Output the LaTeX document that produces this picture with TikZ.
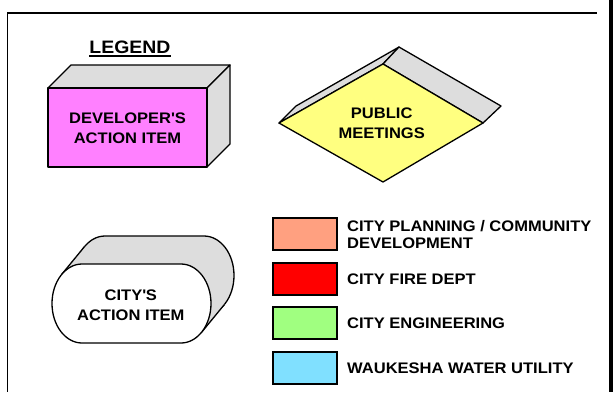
\documentclass[tikz,border=0pt]{standalone}
\usepackage{fontspec}
\setmainfont{Liberation Sans}[FakeStretch=1.08]
\definecolor{pinkface}{HTML}{FF80FF}
\definecolor{yellowface}{HTML}{FFFF80}
\definecolor{sideface}{HTML}{DDDDDD}
\definecolor{salmon}{HTML}{FFA080}
\definecolor{firered}{HTML}{FF0000}
\definecolor{enggreen}{HTML}{A0FF80}
\definecolor{waterblue}{HTML}{80E0FF}
\tikzset{
  shapeline/.style={draw=black, line width=1.3pt, line join=round},
  side/.style={shapeline, fill=sideface},
  swatch/.style={draw=black, line width=1.4pt},
  lbl/.style={font=\bfseries\fontsize{15.3}{20}\selectfont, align=center, inner sep=0pt},
  keylbl/.style={font=\bfseries\fontsize{15.3}{17}\selectfont, align=left, anchor=west, inner sep=0pt},
}
\begin{document}
\begin{tikzpicture}[x=1pt,y=-1pt]
\useasboundingbox (0,0) rectangle (614,392);
% frame
\draw[line width=2pt] (7,13) -- (597,13);
\draw[line width=1.5pt] (7.5,12) -- (7.5,392);
\draw[line width=4pt] (611.3,0) -- (611.3,392);
% legend title
\node[font=\bfseries\fontsize{18}{20}\selectfont, anchor=base, inner sep=0pt] (leg) at (130,53) {LEGEND};
\draw[line width=1.8pt] ([yshift=-3.2pt]leg.base west) -- ([yshift=-3.2pt]leg.base east);
% developer box
\filldraw[side] (48,88) -- (71,65) -- (230,65) -- (207,88) -- cycle;
\filldraw[side] (207,88) -- (230,65) -- (230,144) -- (207,167) -- cycle;
\filldraw[shapeline, fill=pinkface] (48,88) rectangle (207,167);
\node[lbl] (dev) at (127.5,128) {DEVELOPER\textquotesingle S\\ACTION ITEM};
% public meetings diamond
\filldraw[side] (279,123) -- (296,106) -- (399,47) -- (383,64) -- cycle;
\filldraw[side] (383,64) -- (399,47) -- (501,106) -- (483,123) -- cycle;
\filldraw[shapeline, fill=yellowface] (279,123) -- (383,64) -- (483,123) -- (383,182) -- cycle;
\node[lbl] (pub) at (381.7,123) {PUBLIC\\MEETINGS};
% city's action item cylinder
\begin{scope}[shift={(23,-28)}]
\filldraw[side] (82,264) -- (181,264) arc[start angle=-90,end angle=90,x radius=30,y radius=39.5]
  -- (82,343) arc[start angle=90,end angle=270,x radius=30,y radius=39.5] -- cycle;
\end{scope}
\fill[sideface] (61.6,274.5) -- (84.6,246.5) -- (224.4,304.5) -- (201.4,332.5) -- cycle;
\draw[shapeline] (61.6,274.5) -- (84.6,246.5);
\draw[shapeline] (201.4,332.5) -- (224.4,304.5);
\filldraw[shapeline, fill=white] (82,264) -- (181,264) arc[start angle=-90,end angle=90,x radius=30,y radius=39.5]
  -- (82,343) arc[start angle=90,end angle=270,x radius=30,y radius=39.5] -- cycle;
\node[lbl] (city) at (130.8,305) {CITY\textquotesingle S\\ACTION ITEM};
% key swatches
\filldraw[swatch, fill=salmon] (273,218) rectangle (337,250);
\filldraw[swatch, fill=firered] (273,263) rectangle (337,295);
\filldraw[swatch, fill=enggreen] (273,307) rectangle (337,339);
\filldraw[swatch, fill=waterblue] (273,352) rectangle (337,384);
\node[keylbl] (k1) at (347,234.5) {CITY PLANNING / COMMUNITY\\DEVELOPMENT};
\node[keylbl] (k2) at (347,279) {CITY FIRE DEPT};
\node[keylbl] (k3) at (347,323) {CITY ENGINEERING};
\node[keylbl] (k4) at (347,368) {WAUKESHA WATER UTILITY};
\end{tikzpicture}
\end{document}
